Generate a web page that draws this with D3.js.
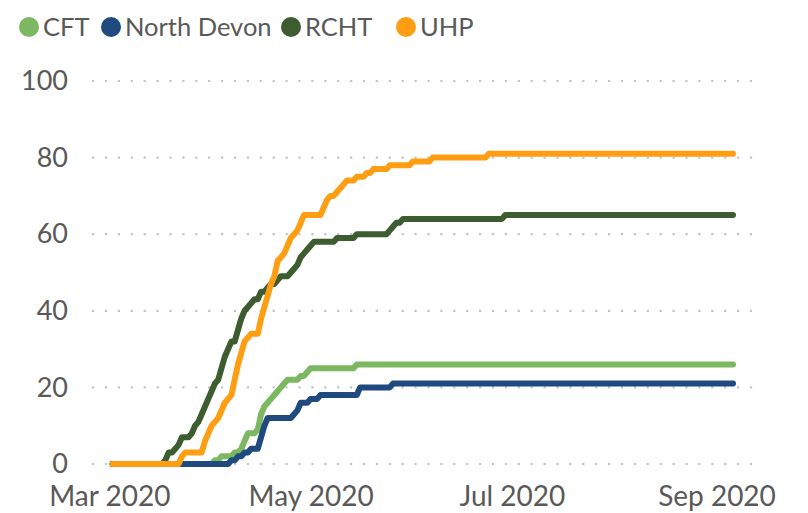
<!DOCTYPE html>
<html>
<head>
<meta charset="utf-8">
<script src="https://cdn.jsdelivr.net/npm/d3@7"></script>
<style>
  body { margin: 0; background: #fff; }
  text { font-family: Lato, "Open Sans", sans-serif; fill: #595959; }
</style>
</head>
<body>
<div id="chart"></div>
<script>
// series names and colours (legend order)
const names = ["CFT", "North Devon", "RCHT", "UHP"];
const colors = ["#7cb761", "#1f4a7e", "#3d5c30", "#ff9e12"];

// x ticks / y ticks
const xTicks = ["2020-03-01", "2020-05-01", "2020-07-01", "2020-09-01"];
const yTicks = [0, 20, 40, 60, 80, 100];

// cumulative counts (date, value)
const cftDates = ["03-02","04-01","04-02","04-03","04-04","04-07","04-08","04-09","04-10","04-11","04-12","04-14","04-15","04-16","04-17","04-18","04-19","04-20","04-21","04-22","04-23","04-24","04-27","04-28","04-29","04-30","05-01","05-14","05-15","09-06"];
const cftValues = [0,0,1,1,2,2,3,3,4,6,8,8,9,13,15,16,17,18,19,20,21,22,22,23,23,24,25,25,26,26];

const ndDates = ["03-02","04-06","04-07","04-08","04-09","04-10","04-11","04-12","04-13","04-15","04-16","04-17","04-18","04-25","04-26","04-27","04-28","04-30","05-01","05-03","05-04","05-15","05-16","05-25","05-26","09-06"];
const ndValues = [0,0,1,1,2,2,3,3,4,4,7,10,12,12,13,14,16,16,17,17,18,18,20,20,21,21];

const rchtDates = ["03-02","03-17","03-18","03-19","03-20","03-21","03-22","03-23","03-25","03-26","03-27","03-28","03-29","03-30","03-31","04-01","04-02","04-03","04-04","04-05","04-06","04-07","04-08","04-09","04-10","04-11","04-12","04-13","04-14","04-15","04-16","04-17","04-18","04-19","04-20","04-21","04-22","04-24","04-25","04-26","04-27","04-28","04-29","04-30","05-01","05-02","05-08","05-09","05-14","05-15","05-24","05-25","05-26","05-27","05-28","05-29","06-28","06-29","09-06"];
const rchtValues = [0,0,1,3,3,4,5,7,7,8,10,11,13,15,17,19,21,22,25,28,30,32,32,35,38,40,41,42,43,43,45,45,46,47,47,48,49,49,50,51,52,54,55,56,57,58,58,59,59,60,60,61,62,63,63,64,64,65,65];

const uhpDates = ["03-02","03-22","03-23","03-24","03-29","03-30","03-31","04-01","04-02","04-03","04-04","04-05","04-06","04-07","04-08","04-09","04-10","04-11","04-12","04-13","04-15","04-16","04-17","04-18","04-19","04-20","04-21","04-22","04-23","04-24","04-25","04-26","04-27","04-28","04-29","05-04","05-05","05-06","05-07","05-08","05-09","05-10","05-11","05-12","05-14","05-15","05-17","05-18","05-19","05-20","05-24","05-25","05-31","06-01","06-06","06-07","06-23","06-24","09-06"];
const uhpValues = [0,0,2,3,3,6,8,10,11,12,14,16,17,18,22,26,29,32,33,34,34,38,41,44,47,49,53,54,55,57,59,60,61,63,65,65,67,69,70,70,71,72,73,74,74,75,75,76,76,77,77,78,78,79,79,80,80,81,81];

const seriesDates = [cftDates, ndDates, rchtDates, uhpDates];
const seriesValues = [cftValues, ndValues, rchtValues, uhpValues];

const width = 808, height = 513;
const plotLeft = 92, plotRight = 755;

const parse = d3.timeParse("%Y-%m-%d");

let svg = d3.select("#chart")
    .append("svg")
    .attr("width", width)
    .attr("height", height);

let x = d3.scaleTime()
    .domain([parse("2020-03-01"), parse("2020-09-01")])
    .range([109.3, 716.5]);

let y = d3.scaleLinear()
    .domain([0, 100])
    .range([464, 81]);

// dotted gridlines (0 line included)
svg.append("g").selectAll("line")
    .data(yTicks)
    .enter()
    .append("line")
    .attr("x1", plotLeft)
    .attr("x2", plotRight)
    .attr("y1", d => y(d))
    .attr("y2", d => y(d))
    .attr("stroke", "#c4c4c4")
    .attr("stroke-width", 2.2)
    .attr("stroke-dasharray", "2.2,10.7");

// y axis labels
svg.append("g")
    .attr("transform", "translate(68,0)")
    .call(d3.axisLeft(y).tickValues(yTicks).tickSize(0).tickPadding(0))
    .call(g => g.select(".domain").remove())
    .selectAll("text")
    .style("font-size", "27px")
    .style("fill", "#595959")
    .style("font-family", "Lato, sans-serif");

// x axis labels
svg.append("g")
    .attr("transform", "translate(0,486.5)")
    .call(d3.axisBottom(x)
        .tickValues(xTicks.map(parse))
        .tickFormat(d3.timeFormat("%b %Y"))
        .tickSize(0).tickPadding(0))
    .call(g => g.select(".domain").remove())
    .selectAll("text")
    .style("font-size", "28px")
    .style("fill", "#595959")
    .style("font-family", "Lato, sans-serif");

// lines
let line = d3.line()
    .x(d => x(d.date))
    .y(d => y(d.value));

names.forEach(function(name, i) {
    let pts = seriesDates[i].map(function(s, j) {
        return { date: parse("2020-" + s), value: seriesValues[i][j] };
    });
    svg.append("path")
        .datum(pts)
        .attr("fill", "none")
        .attr("stroke", colors[i])
        .attr("stroke-width", 6)
        .attr("stroke-linecap", "round")
        .attr("stroke-linejoin", "round")
        .attr("d", line);
});

// legend
let legendX = [29, 111, 291, 406];
let legend = svg.append("g");
names.forEach(function(name, i) {
    legend.append("circle")
        .attr("cx", legendX[i])
        .attr("cy", 27)
        .attr("r", 10)
        .attr("fill", colors[i]);
    legend.append("text")
        .attr("x", legendX[i] + 14)
        .attr("y", 27)
        .attr("dy", "0.36em")
        .style("font-size", "25.5px")
        .text(name);
});
</script>
</body>
</html>
